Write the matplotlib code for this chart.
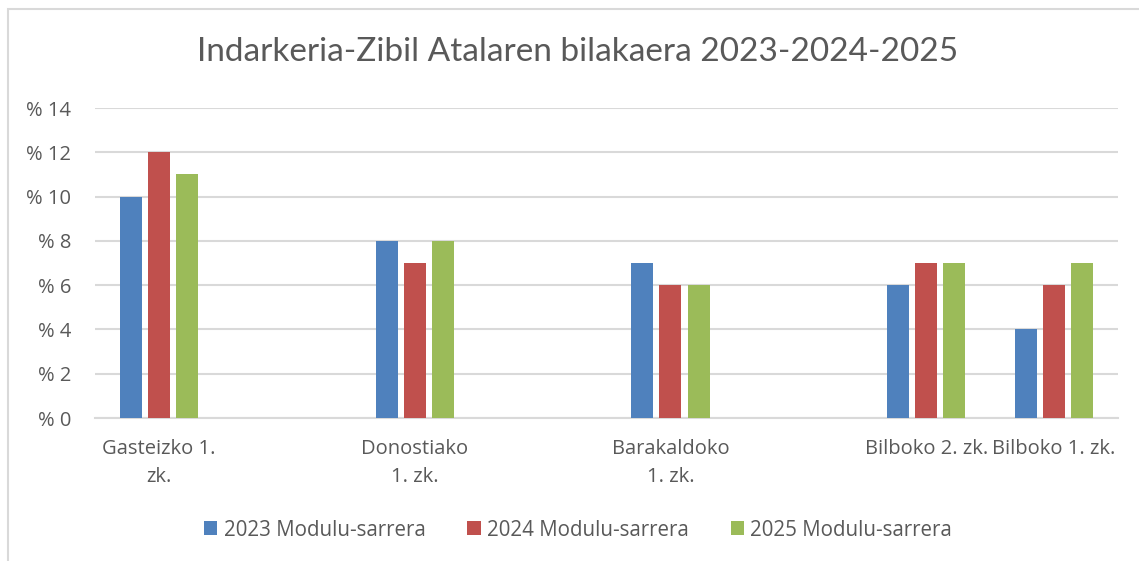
import matplotlib.pyplot as plt
from matplotlib.patches import Rectangle
import numpy as np

plt.rcParams['font.family'] = ['Open Sans', 'DejaVu Sans']

# Category slots (empty slots keep the uneven spacing of the original)
categories = ["Gasteizko 1.\nzk.", "", "Donostiako\n1. zk.", "", "Barakaldoko\n1. zk.", "", "Bilboko 2. zk.", "Bilboko 1. zk."]
nan = np.nan
v2023 = [10, nan, 8, nan, 7, nan, 6, 4]
v2024 = [12, nan, 7, nan, 6, nan, 7, 6]
v2025 = [11, nan, 8, nan, 6, nan, 7, 7]
series_names = ["2023 Modulu-sarrera", "2024 Modulu-sarrera", "2025 Modulu-sarrera"]
colors = ["#4F81BD", "#C0504D", "#9BBB59"]
yticks = [0, 2, 4, 6, 8, 10, 12, 14]
ytick_labels = [f"% {v}" for v in yticks]

text_color = "#595959"
grid_color = "#D9D9D9"

fig = plt.figure(figsize=(11.39, 5.61), dpi=100)
ax = fig.add_axes([95 / 1139, 1 - 418 / 561, (1118 - 95) / 1139, (418 - 108) / 561])

# chart border (top and left visible)
fig.patches.append(Rectangle((8 / 1139, -0.1), 1.2, 1 - 9 / 561 + 0.1, transform=fig.transFigure,
                             fill=False, edgecolor=grid_color, linewidth=1.5))

x = np.arange(len(categories))
width = 0.172
step = 0.22
for i, (vals, name, c) in enumerate(zip([v2023, v2024, v2025], series_names, colors)):
    ax.bar(x + (i - 1) * step, vals, width, color=c, label=name, zorder=3)

ax.set_xlim(-0.5, len(categories) - 0.5)
ax.set_ylim(0, 14)
ax.set_yticks(yticks)
ax.set_yticklabels(ytick_labels, fontsize=14.5, color=text_color)
ax.set_xticks(x)
ax.set_xticklabels(categories, fontsize=14.5, color=text_color, linespacing=1.55)
ax.tick_params(axis='both', length=0)
ax.tick_params(axis='y', pad=17)
ax.tick_params(axis='x', pad=15)

ax.grid(axis='y', color=grid_color, linewidth=1.5, zorder=0)
for s in ['top', 'right', 'left']:
    ax.spines[s].set_visible(False)
ax.spines['bottom'].set_color(grid_color)
ax.spines['bottom'].set_linewidth(1.5)

fig.text(0.5075, 1 - 52 / 561, "Indarkeria-Zibil Atalaren bilakaera 2023-2024-2025",
         ha='center', va='center', fontsize=24, color=text_color, family=['Lato', 'DejaVu Sans'])

fig.legend(loc='center', bbox_to_anchor=(0.5075, 1 - 530 / 561), ncol=3, frameon=False,
           fontsize=14.8, labelcolor=text_color, handlelength=0.65, handleheight=0.65,
           handletextpad=0.3, columnspacing=2.05)

fig.savefig("out.png", dpi=100)
